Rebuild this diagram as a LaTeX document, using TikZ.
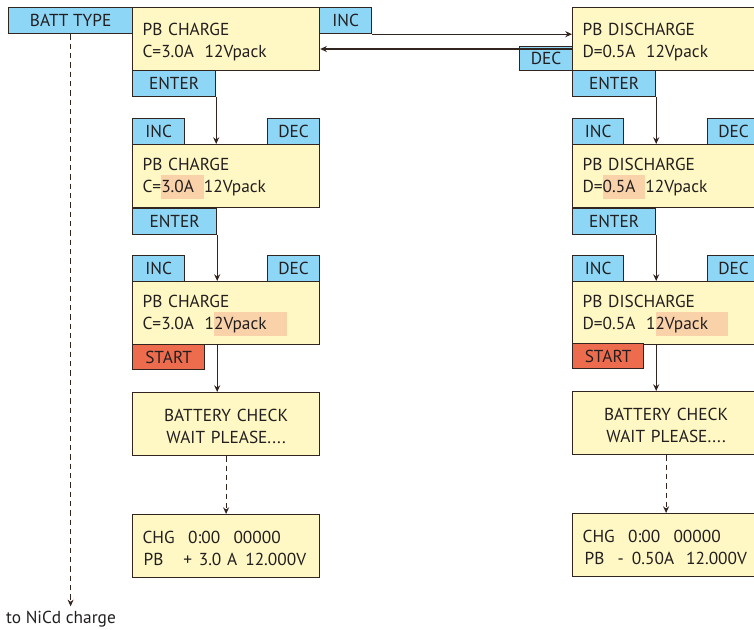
\documentclass[tikz,border=0pt]{standalone}
\usepackage{fontspec}
\setmainfont{PT Sans}
\usepackage{xcolor}
\usepackage{tikz}
\usetikzlibrary{arrows.meta}

\definecolor{tabblue}{RGB}{142,214,245}
\definecolor{lcdyellow}{RGB}{255,248,196}
\definecolor{startred}{RGB}{238,108,78}
\definecolor{hlpeach}{RGB}{249,210,170}
\definecolor{framedark}{RGB}{50,36,30}
\definecolor{textdark}{RGB}{35,31,32}

% peach mark behind the value being edited
\newcommand{\hlt}[1]{{\setlength{\fboxsep}{0pt}\colorbox{hlpeach}{\rule[-4.5pt]{0pt}{18pt}#1}}}

\tikzset{
  lcd/.style={draw=framedark, line width=0.9pt, fill=lcdyellow, anchor=north west,
    minimum height=47.25pt, text width=125.25pt, inner xsep=7.5pt, inner ysep=0pt, align=left,
    execute at begin node={\rule{0pt}{13pt}}},
  lcdmid/.style={lcd, align=center},
  key/.style={draw=framedark, line width=0.9pt, fill=tabblue, anchor=north west,
    minimum height=19.5pt, inner sep=0pt},
  startkey/.style={key, fill=startred},
  arr/.style={draw=framedark, line width=0.9pt, -{Stealth[length=5pt,width=4.5pt]}},
  dasharr/.style={arr, dash pattern=on 4pt off 3pt}
}

\begin{document}
\begin{tikzpicture}[x=0.75pt,y=0.75pt,yscale=-1,xscale=1,
    every node/.style={font=\fontsize{13pt}{16.5pt}\selectfont, text=textdark}]
        \clip (0,0) rectangle (754,629);

        %Shape: Rectangle [batt type key]
        \node [key, minimum width=93pt] (batt) at (8,7) {BATT TYPE};

        % charge column
        \node [lcd] (cbox1) at (132,7) {PB CHARGE\\C=3.0A\hspace{8pt}12Vpack};
        \node [key, minimum width=39pt] (inc0) at (319,7) {INC};
        \node [key, minimum width=62.25pt] (enter1) at (132,70) {ENTER};

        \node [lcd] (cbox2) at (132,144) {PB CHARGE\\C=\hlt{3.0A\hspace{7.5pt}}12Vpack};
        \node [key, minimum width=39pt] (cinc2) at (132,118) {INC};
        \node [key, minimum width=39pt] (cdec2) at (267,118) {DEC};
        \node [key, minimum width=63pt] (enter2) at (132,208) {ENTER};

        \node [lcd] (cbox3) at (132,281) {PB CHARGE\\C=3.0A\hspace{8pt}1\hlt{2Vpack\hspace{15pt}}};
        \node [key, minimum width=39pt] (cinc3) at (132,255) {INC};
        \node [key, minimum width=39pt] (cdec3) at (267,255) {DEC};
        \node [startkey, minimum width=54pt, minimum height=18.75pt] (cstart) at (132,344) {START};

        \node [lcdmid] (cchk) at (132,392) {BATTERY CHECK\\WAIT PLEASE....};
        \node [lcd] (crun) at (132,514) {CHG\hspace{10pt}0:00\hspace{10pt}00000\\\hspace{0.75pt}PB\hspace{15pt}+\hspace{5pt}3.0 A\hspace{6pt}12.000V};

        % discharge column
        \node [lcd] (dbox1) at (572,7) {PB DISCHARGE\\D=0.5A\hspace{8pt}12Vpack};
        \node [key, minimum width=39.75pt, minimum height=18pt] (ddec0) at (519,46) {DEC};
        \node [key, minimum width=62.25pt] (denter1) at (572,70) {ENTER};

        \node [lcd] (dbox2) at (572,144) {PB DISCHARGE\\D=\hlt{0.5A\hspace{7.5pt}}12Vpack};
        \node [key, minimum width=38.25pt] (dinc2) at (572,118) {INC};
        \node [key, minimum width=39pt] (ddec2) at (707,118) {DEC};
        \node [key, minimum width=62.25pt] (denter2) at (572,208) {ENTER};

        \node [lcd] (dbox3) at (572,281) {PB DISCHARGE\\D=0.5A\hspace{8pt}1\hlt{2Vpack\hspace{15pt}}};
        \node [key, minimum width=38.25pt] (dinc3) at (572,255) {INC};
        \node [key, minimum width=39pt] (ddec3) at (707,255) {DEC};
        \node [startkey, minimum width=53.25pt, minimum height=18.75pt] (dstart) at (572,343) {START};

        \node [lcdmid] (dchk) at (572,391) {BATTERY CHECK\\WAIT PLEASE....};
        \node [lcd] (drun) at (572,513) {CHG\hspace{10pt}0:00\hspace{10pt}00000\\\mbox{\hspace{1.5pt}PB\hspace{10pt}-\hspace{6pt}0.50A\hspace{9pt}12.000V}};

        % Text Node
        \node (nicd) at (61,619) {to NiCd charge};

        %Straight Lines
        \draw [arr] (inc0.south east) -- (inc0.south east -| dbox1.west);
        \draw [arr] ([yshift=2.25pt]ddec0.north east) -- ([yshift=2.25pt]ddec0.north east -| cbox1.east);

        \draw [arr] (enter1.south east) -- (enter1.south east |- cbox2.north);
        \draw [arr] (enter2.south east) -- (enter2.south east |- cbox3.north);
        \draw [arr] (cbox3.south -| enter2.east) -- (cchk.north -| enter2.east);
        \draw [dasharr] (cchk.south) -- (crun.north);

        \draw [arr] (denter1.south east) -- (denter1.south east |- dbox2.north);
        \draw [arr] (denter2.south east) -- (denter2.south east |- dbox3.north);
        \draw [arr] (dbox3.south -| denter2.east) -- (dchk.north -| denter2.east);
        \draw [dasharr] (dchk.south) -- (drun.north);

        \draw [dasharr] (batt.south) -- (batt.south |- nicd.north);

\end{tikzpicture}
\end{document}
